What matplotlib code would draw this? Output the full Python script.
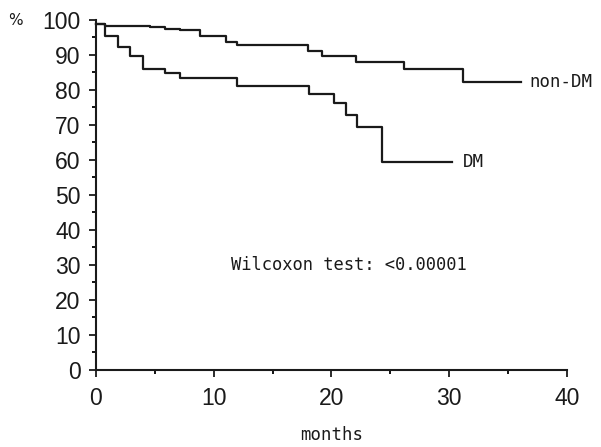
import matplotlib.pyplot as plt
from matplotlib.ticker import MultipleLocator

# Kaplan-Meier curves (months, % surviving)
nondm_t = [0, 0.8, 4.6, 5.9, 7.1, 8.8, 11.0, 12.0, 18.0, 19.2, 22.1, 26.2, 31.2, 36.1]
nondm_s = [98.8, 98.3, 97.9, 97.5, 97.0, 95.4, 93.6, 92.8, 91.0, 89.8, 88.1, 85.9, 82.2, 82.2]

dm_t = [0, 0.8, 1.9, 2.9, 4.0, 5.9, 7.1, 12.0, 18.1, 20.2, 21.2, 22.2, 24.25, 30.2]
dm_s = [98.8, 95.4, 92.2, 89.7, 86.0, 84.8, 83.3, 81.1, 78.9, 76.2, 72.9, 69.3, 59.5, 59.5]

x_ticks = [0, 10, 20, 30, 40]
y_ticks = [0, 10, 20, 30, 40, 50, 60, 70, 80, 90, 100]

INK = '#1a1a1a'
MONO = 'DejaVu Sans Mono'

fig = plt.figure(figsize=(6.01, 4.47), dpi=100)
fig.patch.set_facecolor('white')
ax = fig.add_axes([0.1597, 0.1723, 0.9434 - 0.1597, 0.9553 - 0.1723])

ax.step(nondm_t, nondm_s, where='post', color=INK, linewidth=1.6, clip_on=False)
ax.step(dm_t, dm_s, where='post', color=INK, linewidth=1.6, clip_on=False)

ax.text(36.8, nondm_s[-1], 'non-DM', fontsize=12.5, family=MONO, va='center', ha='left', color=INK)
ax.text(31.2, dm_s[-1], 'DM', fontsize=12.5, family=MONO, va='center', ha='left', color=INK)
ax.text(11.5, 30.0, 'Wilcoxon test: <0.00001', fontsize=12.3, family=MONO,
        va='center', ha='left', color=INK)

ax.set_xlim(0, 40)
ax.set_ylim(0, 100)
ax.set_xticks(x_ticks)
ax.set_yticks(y_ticks)
ax.xaxis.set_minor_locator(MultipleLocator(5))
ax.yaxis.set_minor_locator(MultipleLocator(5))
ax.tick_params(axis='both', which='major', direction='out', length=5, width=1.3,
               labelsize=16.5, colors=INK)
ax.tick_params(axis='both', which='minor', direction='out', length=3, width=1.3)
ax.tick_params(axis='y', which='major', pad=6)
ax.tick_params(axis='x', which='major', pad=7)
for lab in ax.get_xticklabels() + ax.get_yticklabels():
    lab.set_family('Liberation Sans')

for sp in ['top', 'right']:
    ax.spines[sp].set_visible(False)
for sp in ['left', 'bottom']:
    ax.spines[sp].set_linewidth(1.5)
    ax.spines[sp].set_color(INK)

ax.set_xlabel('months', fontsize=12.5, family=MONO, labelpad=12, color=INK)
fig.text(0.013, 0.955, '%', fontsize=11, va='center', ha='left', color=INK)

fig.savefig('out.png', dpi=100, facecolor='white')
plt.close(fig)
